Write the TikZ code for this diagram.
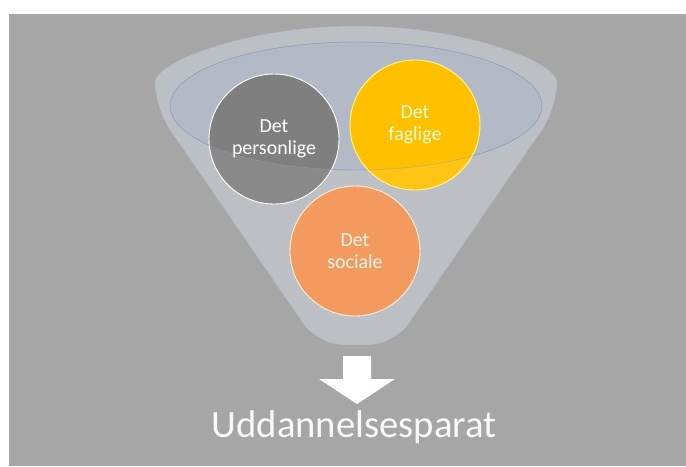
\documentclass[tikz,border=0pt]{standalone}
\usepackage{fontspec}
\setmainfont{Carlito}
\definecolor{bggray}{HTML}{A6A6A6}
\definecolor{funnelgray}{HTML}{B7BABF}
\definecolor{rimblue}{HTML}{B3BAC6}
\definecolor{rimline}{HTML}{8DA0B8}
\definecolor{persgray}{HTML}{7F7F7F}
\definecolor{fagyellow}{HTML}{FFC000}
\definecolor{socorange}{HTML}{F29352}
\newcommand{\funnelpath}{(155,108) arc[start angle=180,end angle=360,x radius=201,y radius=82] -- (394,345) -- (318,345) -- cycle}
\begin{document}
\begin{tikzpicture}[x=0.03cm,y=-0.03cm,
    bubble/.style={circle,draw=white,line width=0.8pt,minimum size=3.9cm,inner sep=0pt,align=center,text=white,font=\fontsize{17}{19}\selectfont}]
  \useasboundingbox (0,0) rectangle (686,466);
  \fill[bggray] (9,14) rectangle (686,466);
  \filldraw[fill=funnelgray,draw=rimline!40!funnelgray,rounded corners=22] \funnelpath;
  \filldraw[fill=rimblue,draw=rimline] (356,106) ellipse[x radius=186,y radius=64];
  \node[bubble,fill=persgray] (personlige) at (274,139) {Det\\personlige};
  \node[bubble,fill=fagyellow,draw=yellow!45!white,text=yellow!15!white] (faglige) at (415,125) {Det\\faglige};
  \node[bubble,fill=socorange,draw=orange!15!white,text=orange!8!white] (sociale) at (355,251) {Det\\sociale};
  \fill[white,fill opacity=0.08,even odd rule,rounded corners=22] \funnelpath (356,106) ellipse[x radius=186,y radius=64];
  \draw[rimline,opacity=0.6] (356,106) ellipse[x radius=186,y radius=64];
  \fill[white] (343,356) -- (371,356) -- (371,379) -- (395,379) -- (357,404) -- (319,379) -- (343,379) -- cycle;
  \node[text=white!95!gray,font=\fontsize{33}{39}\selectfont,anchor=base] (parat) at (354,437) {Uddannelsesparat};
\end{tikzpicture}
\end{document}
